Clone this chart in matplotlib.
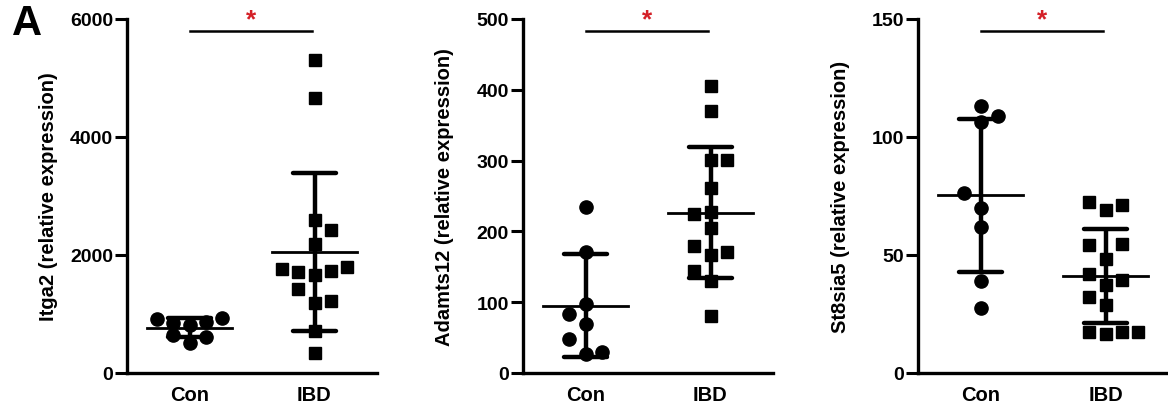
import numpy as np
import matplotlib
matplotlib.use("Agg")
import matplotlib.pyplot as plt
from matplotlib.transforms import blended_transform_factory

plt.rcParams.update({"font.family": ["Liberation Sans", "DejaVu Sans"],
                     "font.weight": "bold"})

groups = ["Con", "IBD"]

# Itga2
itga2_con = [918, 935, 850, 816, 867, 646, 612, 510]
itga2_ibd = [5303, 4669, 2589, 2431, 2193, 1763, 1705, 1661, 1722, 1790,
             1422, 1185, 1224, 714, 335]
# Adamts12
adamts12_con = [234, 171, 98, 83, 69, 48, 27, 30]
adamts12_ibd = [406, 370, 301, 301, 261, 224, 228, 205, 180, 171, 166, 144, 130, 81]
# St8sia5
st8sia5_con = [113.2, 108.7, 106.4, 76.2, 69.9, 61.7, 38.9, 27.7]
st8sia5_ibd = [72.4, 68.9, 71.3, 54.1, 54.5, 48.1, 41.8, 39.6, 37.5, 32.1,
               28.8, 17.2, 16.4, 17.2, 17.2]

# horizontal scatter offsets of the points
itga2_con_dx = [-0.26, 0.26, -0.13, 0, 0.13, -0.13, 0.13, 0]
itga2_ibd_dx = [0, 0, 0, 0.13, 0, -0.26, -0.13, 0, 0.13, 0.26, -0.13, 0, 0.13, 0, 0]
adamts12_con_dx = [0, 0, 0, -0.13, 0, -0.13, 0, 0.13]
adamts12_ibd_dx = [0, 0, 0, 0.13, 0, -0.13, 0, 0, -0.13, 0.13, 0, -0.13, 0, 0]
st8sia5_con_dx = [0, 0.14, 0, -0.13, 0, 0, 0, 0]
st8sia5_ibd_dx = [-0.13, 0, 0.13, -0.13, 0.13, 0, -0.13, 0.13, 0, -0.13, 0,
                  -0.13, 0, 0.13, 0.26]

panels = [
    ("Itga2 (relative expression)", itga2_con, itga2_ibd, itga2_con_dx, itga2_ibd_dx,
     6000, [0, 2000, 4000, 6000]),
    ("Adamts12 (relative expression)", adamts12_con, adamts12_ibd, adamts12_con_dx,
     adamts12_ibd_dx, 500, [0, 100, 200, 300, 400, 500]),
    ("St8sia5 (relative expression)", st8sia5_con, st8sia5_ibd, st8sia5_con_dx,
     st8sia5_ibd_dx, 150, [0, 50, 100, 150]),
]

W, H = 1168, 410
fig = plt.figure(figsize=(W / 100, H / 100), dpi=100)
lefts = [127, 523, 918]
bottom_px, top_px, width_px = 374, 20, 250

for left, (ylab, con, ibd, cdx, idx, ymax, yticks) in zip(lefts, panels):
    ax = fig.add_axes([left / W, (H - bottom_px) / H, width_px / W,
                       (bottom_px - top_px) / H])
    for gi, (vals, dx, mk, ms) in enumerate([(con, cdx, "o", 9.5), (ibd, idx, "s", 8.5)]):
        vals = np.asarray(vals, float)
        m, sd = vals.mean(), vals.std(ddof=1)
        ax.plot(gi + np.asarray(dx), vals, ls="none", marker=mk, ms=ms,
                color="black", mec="black", zorder=3, clip_on=False)
        ax.plot([gi, gi], [m - sd, m + sd], color="black", lw=3.2,
                solid_capstyle="butt", zorder=2)
        for y in (m - sd, m + sd):
            ax.plot([gi - 0.17, gi + 0.17], [y, y], color="black", lw=3.2,
                    solid_capstyle="round", zorder=2)
        ax.plot([gi - 0.34, gi + 0.34], [m, m], color="black", lw=2.0, zorder=2)

    # significance bar
    tr = blended_transform_factory(ax.transData, ax.transAxes)
    ax.plot([0, 0.98], [0.966, 0.966], color="black", lw=1.8, transform=tr,
            clip_on=False)
    ax.text(0.49, 1.0, "*", color="#d42027", fontsize=19, fontweight="bold",
            ha="center", va="center", transform=tr)

    ax.set_xlim(-0.5, 1.5)
    ax.set_ylim(0, ymax)
    ax.set_yticks(yticks)
    ax.set_xticks([0, 1])
    ax.set_xticklabels(groups)
    ax.set_ylabel(ylab, fontsize=14.5, fontweight="bold")
    ax.yaxis.label.set_va("center")
    ax.yaxis.set_label_coords(-78 / width_px, 0.5)
    ax.tick_params(axis="y", direction="out", length=9, width=2.2,
                   labelsize=14, pad=1)
    ax.tick_params(axis="x", length=0, labelsize=14.5, pad=9)
    for s in ("top", "right"):
        ax.spines[s].set_visible(False)
    for s in ("left", "bottom"):
        ax.spines[s].set_linewidth(2.4)
    for lbl in ax.get_xticklabels() + ax.get_yticklabels():
        lbl.set_fontweight("bold")

fig.text(12 / W, 1 - 24 / H, "A", fontsize=30, fontweight="bold", ha="left",
         va="center")

fig.savefig("out.png", dpi=100, facecolor="white")
